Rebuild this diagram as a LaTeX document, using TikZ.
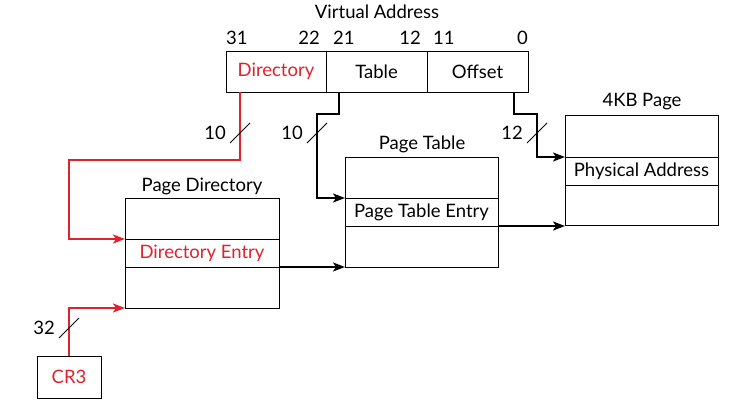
\documentclass[tikz,border=0pt]{standalone}
\usepackage{fontspec}
\setmainfont{Lato}
\usetikzlibrary{arrows.meta}
\definecolor{accent}{RGB}{222,35,45}
\begin{document}
\begin{tikzpicture}[x=1pt,y=-1pt,
  font=\fontsize{18.5}{21}\selectfont,
  cell/.style={draw=black, line width=0.9pt, outer sep=0pt, inner sep=0pt, anchor=north west},
  title/.style={inner sep=0pt},
  wire/.style={line width=2pt, -{Stealth[length=12pt, width=9pt, inset=3pt]}},
  redwire/.style={wire, draw=accent},
  blackwire/.style={wire, draw=black},
  tick/.style={draw=black, line width=1pt},
  width/.style={inner sep=0pt, anchor=east}
]
\useasboundingbox[fill=white] (0,0) rectangle (742,406);

% virtual address fields
\node[title] (vatitle) at (377,12) {Virtual Address};
\node[cell, minimum width=100pt, minimum height=41pt, text=accent] (dir) at (226,51) {Directory};
\node[cell, minimum width=101pt, minimum height=41pt] (tab) at (326,51) {Table};
\node[cell, minimum width=101pt, minimum height=41pt] (off) at (427,51) {Offset};
\node[title, anchor=west] (b31) at (226,38) {31};
\node[title, anchor=east] (b22) at (320,38) {22};
\node[title, anchor=west] (b21) at (333,38) {21};
\node[title, anchor=east] (b12) at (421,38) {12};
\node[title, anchor=west] (b11) at (433,38) {11};
\node[title, anchor=east] (b0) at (528,38) {0};

% page directory
\node[title] (pdtitle) at (202,186) {Page Directory};
\node[cell, minimum width=154pt, minimum height=41pt] (pdtop) at (125,198) {};
\node[cell, minimum width=154pt, minimum height=28pt, text=accent] (pde) at (125,239) {Directory Entry};
\node[cell, minimum width=154pt, minimum height=41pt] (pdbot) at (125,267) {};

% page table
\node[title] (pttitle) at (422,144) {Page Table};
\node[cell, minimum width=153pt, minimum height=41pt] (pttop) at (345,157) {};
\node[cell, minimum width=153pt, minimum height=28pt] (pte) at (345,198) {Page Table Entry};
\node[cell, minimum width=153pt, minimum height=41pt] (ptbot) at (345,226) {};

% 4KB page
\node[title] (pgtitle) at (642,102) {4KB Page};
\node[cell, minimum width=153pt, minimum height=42pt] (pgtop) at (565,115) {};
\node[cell, minimum width=153pt, minimum height=28pt] (pa) at (565,157) {Physical Address};
\node[cell, minimum width=153pt, minimum height=40pt] (pgbot) at (565,185) {};

% CR3 register
\node[cell, minimum width=64pt, minimum height=42pt, text=accent] (cr3) at (37,356) {CR3};

% index and offset paths
\draw[redwire] ([xshift=14pt]dir.south west) -- ++(0,68) -| ([xshift=-56pt]pde.north west) -- (pde.north west);
\draw[redwire] (cr3.north) |- (pdbot.south west);
\draw[blackwire] ([xshift=13pt]tab.south west) -- ++(0,22) -| ([xshift=-28pt]pte.north west) -- (pte.north west);
\draw[blackwire] ([xshift=87pt]off.south west) -- ++(0,22) -| ([xshift=-28pt]pa.north west) -- (pa.north west);
\draw[blackwire] (pdbot.north east) -- (ptbot.south west);
\draw[blackwire] (pte.south east) -- (pte.south east -| pgbot.south west);

% bus-width marks
\coordinate (t1) at (240,133);
\coordinate (t2) at (317,133);
\coordinate (t3) at (537,133);
\coordinate (t4) at (69,328);
\foreach \t in {t1,t2,t3,t4}
  \draw[tick] ([shift={(-10,10)}]\t) -- ([shift={(10,-10)}]\t);
\node[width] (w1) at ([xshift=-14pt]t1) {10};
\node[width] (w2) at ([xshift=-14pt]t2) {10};
\node[width] (w3) at ([xshift=-14pt]t3) {12};
\node[width] (w4) at ([xshift=-14pt]t4) {32};
\end{tikzpicture}
\end{document}
